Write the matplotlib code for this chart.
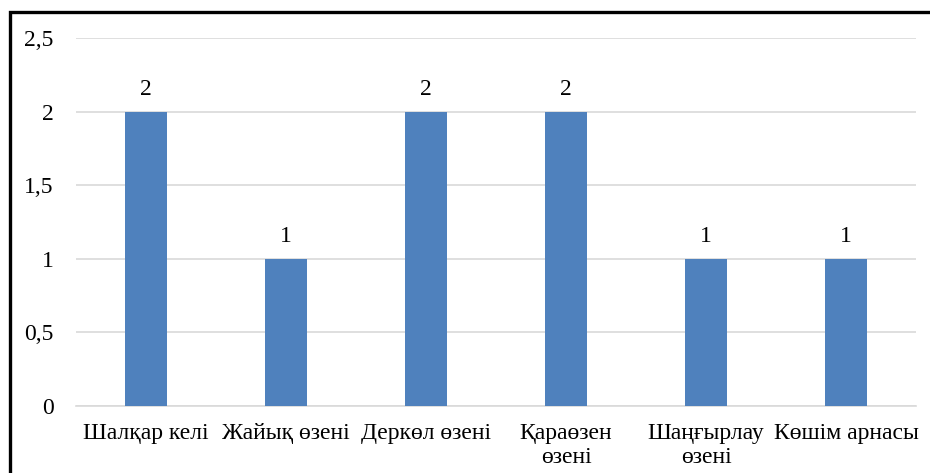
import matplotlib
matplotlib.use("Agg")
import matplotlib.pyplot as plt
from matplotlib.patches import Rectangle
from matplotlib.ticker import FixedLocator, FuncFormatter

categories = ["Шалқар келі", "Жайық өзені", "Деркөл өзені",
              "Қараөзен\nөзені", "Шаңғырлау\nөзені", "Көшім арнасы"]
values = [2, 1, 2, 2, 1, 1]
y_ticks = [0, 0.5, 1, 1.5, 2, 2.5]

W, H = 930, 473
fig = plt.figure(figsize=(W / 100, H / 100), dpi=100)
plt.rcParams["font.family"] = ["Liberation Serif", "DejaVu Serif"]
FS = 17

ax = fig.add_axes([76 / W, (H - 406) / H, (916 - 76) / W, (406 - 38) / H])

x = list(range(len(categories)))
bars = ax.bar(x, values, width=0.3, color="#4F81BD", zorder=3)
for xi, v in zip(x, values):
    ax.text(xi, v + 0.08, f"{v}", ha="center", va="bottom",
            fontsize=FS, color="#000000")

ax.set_xlim(-0.5, len(categories) - 0.5)
ax.set_ylim(0, 2.5)
ax.yaxis.set_major_locator(FixedLocator(y_ticks))
ax.yaxis.set_major_formatter(FuncFormatter(lambda v, p: f"{v:g}".replace(".", ",")))
ax.set_xticks(x)
ax.set_xticklabels(categories, fontsize=FS, linespacing=1.2)
ax.tick_params(axis="y", length=0, pad=16, labelsize=FS)
ax.tick_params(axis="x", length=0, pad=12)

ax.grid(axis="y", color="#D9D9D9", linewidth=1.2, zorder=0)
for side in ["top", "right", "left"]:
    ax.spines[side].set_visible(False)
ax.spines["bottom"].set_color("#D9D9D9")
ax.spines["bottom"].set_linewidth(1.2)

# outer frame, open to the right and bottom
frame = Rectangle((10 / W, -0.1), 1.2, (H - 12) / H + 0.1,
                  transform=fig.transFigure, fill=False,
                  edgecolor="black", linewidth=2.4)
fig.patches.append(frame)

fig.savefig("out.png", dpi=100)
